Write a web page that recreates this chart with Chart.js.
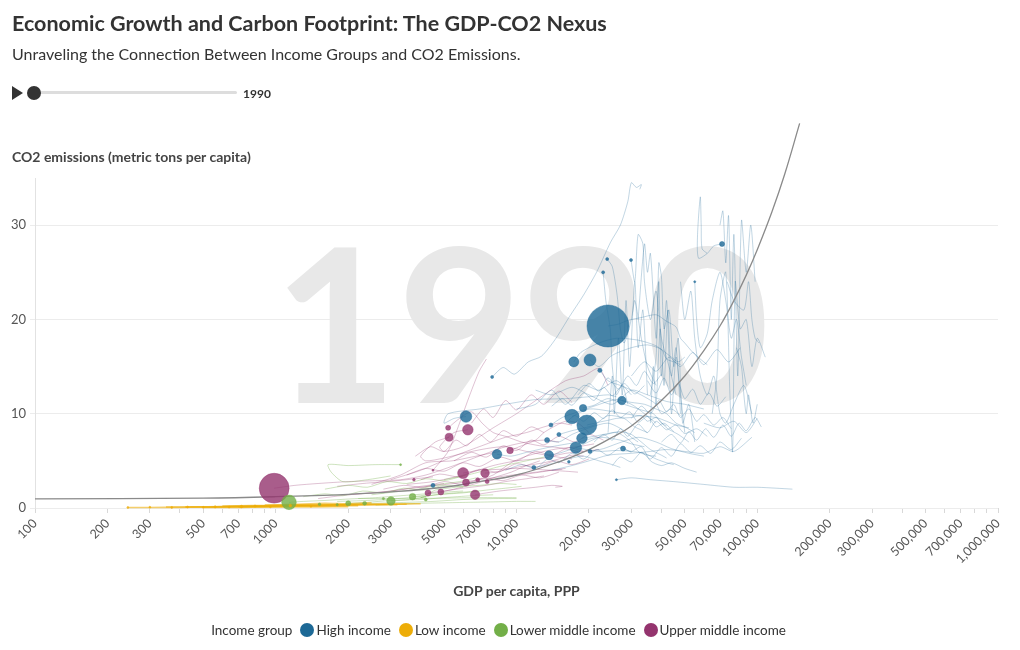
<!DOCTYPE html>
<html>
<head>
<meta charset="utf-8">
<script src="https://cdn.jsdelivr.net/npm/chart.js@4.4.0/dist/chart.umd.min.js"></script>
<style>
  body { margin: 0; width: 1020px; height: 650px; position: relative; background: #fff; font-family: Lato, "Open Sans", sans-serif; color: #333; overflow: hidden; }
  #c { position: absolute; left: 0; top: 0; }
  .abs { position: absolute; white-space: nowrap; }
  #title { left: 12px; top: 10px; font-size: 21.5px; font-weight: 700; color: #333; }
  #subtitle { left: 12px; top: 44px; font-size: 16px; color: #333; }
  #play { left: 12px; top: 86px; width: 0; height: 0; border-top: 7px solid transparent; border-bottom: 7px solid transparent; border-left: 11px solid #333; }
  #track { left: 34px; top: 91px; width: 203px; height: 3px; background: #ddd; border-radius: 2px; }
  #knob { left: 27px; top: 86px; width: 14px; height: 14px; border-radius: 50%; background: #333; }
  #year { left: 243px; top: 86px; font-size: 12px; font-weight: 700; color: #333; }
  #ytitle { left: 12px; top: 148px; font-size: 14px; font-weight: 700; color: #444; }
  #xtitle { left: 35px; width: 963px; top: 582px; text-align: center; font-size: 14px; font-weight: 700; color: #444; }
  #legend { left: 0; width: 1005px; top: 622px; display: flex; justify-content: center; align-items: center; font-size: 13.5px; color: #333; }
  #legend .lab { margin-right: 8px; }
  #legend .item { display: flex; align-items: center; margin-right: 8px; }
  #legend .dot { width: 14px; height: 14px; border-radius: 50%; margin-right: 2px; }
</style>
</head>
<body>
<canvas id="c" width="1020" height="650"></canvas>
<div id="title" class="abs">Economic Growth and Carbon Footprint: The GDP-CO2 Nexus</div>
<div id="subtitle" class="abs">Unraveling the Connection Between Income Groups and CO2 Emissions.</div>
<div id="play" class="abs"></div>
<div id="track" class="abs"></div>
<div id="knob" class="abs"></div>
<div id="year" class="abs">1990</div>
<div id="ytitle" class="abs">CO2 emissions (metric tons per capita)</div>
<div id="xtitle" class="abs">GDP per capita, PPP</div>
<div id="legend" class="abs"></div>
<script>
// groups and colours
const groups = ['High income', 'Low income', 'Lower middle income', 'Upper middle income'];
const groupColors = ['#1D6996', '#EDAD08', '#73AF48', '#94346E'];
const year = '1990';

// 1990 markers: GDP per capita (PPP), CO2 per capita (t), total CO2 (Mt, sets bubble size)
const highGdp   = [24000, 17300, 20200, 22200, 27400, 17000, 18900, 19600, 18700, 17650, 6170, 8300, 13650, 13400, 15000, 13900, 20200, 26000, 71400, 23800, 29900, 22900, 55000, 7920, 4500, 27700, 11800, 16500];
const highCo2   = [19.3, 15.5, 15.7, 14.6, 11.4, 9.7, 10.6, 8.8, 7.4, 6.4, 9.7, 5.7, 5.6, 7.2, 7.8, 8.8, 6.0, 3.0, 28.0, 26.4, 26.3, 25.0, 24.0, 13.9, 2.4, 6.3, 4.3, 4.9];
const highTotal = [4900, 280, 400, 50, 200, 575, 150, 1110, 310, 370, 370, 255, 225, 70, 45, 45, 45, 12, 70, 25, 25, 25, 12, 25, 45, 70, 45, 20];

const lowGdp   = [243, 300, 370, 430, 500, 560, 640, 720, 820, 950, 1150, 1400];
const lowCo2   = [0.05, 0.08, 0.06, 0.1, 0.07, 0.12, 0.1, 0.15, 0.2, 0.12, 0.25, 0.18];
const lowTotal = [8, 10, 8, 12, 10, 15, 12, 20, 15, 10, 18, 12];

const lmGdp   = [1135, 3010, 3700, 2000, 3300, 1520, 2340, 2800, 4200, 1800];
const lmCo2   = [0.6, 0.75, 1.2, 0.5, 4.6, 0.4, 0.5, 1.0, 0.9, 0.35];
const lmTotal = [590, 200, 120, 70, 10, 20, 40, 15, 25, 15];

const umGdp   = [985, 6280, 5250, 5200, 9400, 6000, 7400, 6170, 6730, 4290, 4850, 6900, 7550, 3750, 4500];
const umCo2   = [2.1, 8.3, 7.5, 8.5, 6.1, 3.7, 3.7, 2.7, 1.4, 1.6, 1.7, 3.0, 2.8, 3.0, 4.0];
const umTotal = [2475, 310, 180, 70, 120, 335, 205, 135, 245, 100, 100, 45, 45, 20, 12];

// trails of later years, [gdp, co2] pairs
const highTrails = [
  [[24000,19.3],[26500,19.5],[29000,19.9],[33000,20.2],[38000,20.5],[42000,19.8],[46000,19.2],[48000,18.0],[50000,17.5],[54000,16.5],[58000,15.8],[62000,15.2]],
  [[20200,15.7],[22000,15.0],[25000,16.2],[30000,17.0],[35000,17.3],[40000,16.8],[42000,15.8],[45000,15.5],[48000,15.2]],
  [[17300,15.5],[18500,16.5],[22000,17.5],[26000,18.0],[32000,17.8],[38000,17.2],[44000,16.0],[47000,15.5],[50000,16.0]],
  [[19600,8.8],[22000,9.1],[24000,9.3],[26000,9.5],[30000,9.6],[33000,9.8],[35000,9.2],[38000,9.6],[40000,9.0],[42000,8.7]],
  [[17000,9.7],[20000,10.5],[24000,10.3],[28000,10.0],[32000,9.8],[38000,9.6],[42000,9.2],[46000,8.8],[52000,8.5]],
  [[18700,7.4],[21000,7.6],[24000,7.9],[27000,8.1],[30000,7.8],[33000,7.0],[36000,6.2],[40000,5.6],[42000,5.3]],
  [[17650,6.4],[19500,6.2],[22000,6.0],[26000,6.1],[30000,6.0],[34000,5.8],[38000,5.2],[42000,4.8],[45000,4.6]],
  [[6170,9.7],[5500,9.5],[5000,9.0],[5200,10.0],[7000,10.5],[9000,11.0],[12000,11.5],[16000,11.6],[20000,11.8],[24000,12.0],[26000,11.8]],
  [[8300,5.7],[9500,5.5],[11000,5.9],[14000,6.5],[18000,7.0],[22000,7.5],[27000,7.2],[30000,6.8],[34000,6.5]],
  [[13650,5.6],[15000,5.8],[18000,6.5],[22000,7.5],[26000,8.0],[30000,7.0],[32000,6.0],[35000,5.6],[38000,5.5]],
  [[27400,11.4],[30000,11.2],[34000,11.0],[38000,10.5],[42000,10.0],[46000,9.0],[50000,8.6],[55000,8.0]],
  [[18900,10.6],[21000,10.9],[24000,11.6],[28000,11.0],[33000,10.4],[37000,10.0],[42000,8.5],[47000,7.8],[52000,7.0]],
  [[22200,14.6],[24000,13.5],[27000,13.0],[30000,12.5],[34000,11.8],[38000,11.0],[40000,10.0],[44000,10.5],[48000,9.8]],
  [[13400,7.2],[15000,7.0],[17000,7.8],[20000,8.5],[24000,9.0],[28000,8.2],[30000,7.5],[32000,7.0]],
  [[13900,8.8],[15500,9.6],[18000,10.2],[21000,10.8],[26000,11.5],[30000,11.0],[34000,10.0],[38000,9.0]],
  [[15000,7.8],[17000,8.2],[21000,8.8],[24000,9.8],[28000,9.5],[31000,8.6],[35000,8.0]],
  [[20200,6.0],[23000,6.3],[26000,6.8],[32000,7.5],[38000,7.0],[44000,6.3],[52000,5.8],[60000,5.5]],
  [[26000,3.0],[30000,3.2],[36000,3.0],[45000,2.8],[60000,2.5],[80000,2.2],[100000,2.2],[120000,2.1],[140000,2.0]],
  [[27700,6.3],[30000,6.0],[33000,6.5],[36000,5.0],[40000,4.5],[44000,4.8],[50000,4.2],[56000,3.8]],
  [[11800,4.3],[13000,4.5],[15000,4.9],[17000,5.3],[19000,5.5],[22000,5.0],[25000,4.6],[27000,4.3]],
  [[7920,13.9],[8800,14.9],[9800,14.2],[11200,15.5],[12700,16.1],[14500,17.9],[16600,20.3],[18900,22.5],[21500,25.0],[24600,28.2],[27000,30.0],[29000,32.5],[30000,34.5],[31500,34.0],[33000,34.3],[32500,33.8]],
  [[23800,26.4],[25000,25.6],[26200,22.5],[27000,19.0],[28000,17.5],[30000,20.0],[31000,22.0],[33000,18.0],[35000,15.0],[38000,13.0]],
  [[29900,26.3],[31000,24.0],[32000,29.0],[33500,28.0],[34000,24.0],[36000,20.0],[38000,23.0],[40000,18.0],[43000,15.0],[46000,12.0]],
  [[22900,25.0],[23500,22.0],[24500,19.0],[25000,15.0],[26000,12.0],[27500,13.0],[29000,11.0]],
  [[55000,24.0],[56000,20.0],[58000,17.0],[62000,18.5],[65000,22.0],[70000,25.0],[74000,22.0],[78000,18.0],[82000,20.0],[86000,16.0],[90000,13.0]],
  [[71400,28.0],[66000,27.8],[62000,27.0],[57000,26.5],[56500,29.0],[58000,33.0],[58500,30.0],[59000,27.5],[62000,27.0]],
  [[70000,30.0],[72000,31.5],[74000,26.0],[76000,31.0],[78000,20.0],[80000,29.0],[83000,14.0],[86000,30.5],[90000,25.0],[94000,30.0],[98000,24.0]],
  [[65000,10.0],[68000,14.0],[70000,22.0],[74000,25.0],[77000,12.0],[79000,6.0],[81000,24.0],[85000,19.0],[90000,20.0],[95000,15.0],[100000,18.0],[108000,16.0]],
  [[48000,24.0],[50000,20.0],[53000,23.0],[55000,18.0],[58000,14.0],[62000,12.0],[66000,14.0],[70000,10.0],[74000,9.0],[80000,11.0],[88000,13.0],[95000,10.0]],
  [[32000,20.0],[34000,28.0],[35000,25.0],[36000,27.0],[38000,18.0],[39000,24.0],[40000,14.0],[42000,22.0],[44000,10.0],[46000,16.0],[48000,12.0],[50000,8.0]],
  [[36000,12.0],[38000,16.0],[39000,26.0],[40000,24.5],[41000,19.0],[43000,21.0],[45000,15.0],[47000,18.0],[49000,9.0],[52000,11.0],[55000,7.0]],
  [[75000,24.0],[80000,22.0],[88000,21.0],[92000,24.0],[95000,20.0],[98000,18.0],[102000,17.5]],
  [[82000,17.0],[86000,15.0],[88000,12.0],[90000,10.0],[92000,12.0],[96000,9.0],[100000,11.0]],
  [[60000,9.0],[70000,8.5],[80000,9.2],[90000,8.0],[100000,9.5]],
  [[12000,12.5],[14000,12.0],[17000,12.8],[20000,12.0],[25000,11.0],[30000,12.5],[35000,12.0],[42000,11.3],[50000,11.0],[60000,10.5]],
  [[10000,10.5],[12000,11.0],[14000,12.5],[16000,11.0],[19000,13.0],[22000,12.5],[26000,13.5],[30000,12.0]],
  [[14000,4.0],[17000,4.5],[20000,5.0],[24000,5.6],[30000,5.8],[36000,6.0],[42000,6.2],[50000,6.0],[60000,5.8],[70000,6.5],[80000,6.0],[95000,7.5]],
  [[16000,9.0],[17500,9.8],[19000,9.2],[21000,10.1],[23000,9.5],[25000,10.4],[27000,9.6],[29500,10.2],[32000,9.1],[35000,9.7],[38000,8.6],[41000,9.0],[45000,8.1]],
  [[21000,7.0],[23000,7.8],[25000,7.2],[27000,8.4],[29000,7.6],[32000,8.9],[35000,8.0],[38000,9.2],[42000,8.3],[46000,8.8],[50000,7.9],[56000,8.4],[62000,7.6]],
  [[25000,4.5],[27000,5.4],[30000,4.9],[33000,5.9],[36000,5.2],[40000,6.4],[44000,5.5],[48000,6.8],[53000,5.9],[58000,6.6],[64000,5.8],[70000,7.0],[78000,6.2],[86000,7.4]],
  [[30000,9.5],[33000,10.8],[36000,10.0],[39000,11.4],[42000,10.2],[45000,11.0],[48000,9.6],[52000,10.5],[56000,9.2],[60000,9.9],[66000,8.8],[72000,9.6],[78000,8.4]],
  [[35000,13.5],[38000,12.2],[41000,13.8],[44000,12.0],[47000,13.2],[50000,11.6],[54000,12.6],[58000,11.0],[63000,12.2],[68000,10.8],[74000,11.8]],
  [[40000,7.0],[44000,7.8],[48000,6.9],[52000,8.1],[56000,7.2],[61000,8.4],[66000,7.5],[72000,8.8],[78000,7.6],[84000,9.0],[90000,8.2],[98000,9.6],[104000,8.6]],
  [[18000,12.0],[20000,13.2],[22000,12.4],[24000,13.8],[26500,12.6],[29000,14.0],[31500,13.0],[34000,14.5],[37000,13.2],[40000,14.2]],
  [[9000,4.0],[10500,4.6],[12000,4.2],[13500,5.2],[15000,4.8],[17000,5.8],[19000,5.2],[21500,6.2],[24000,5.6],[27000,6.4],[30000,5.9]],
  [[14000,10.8],[15500,11.6],[17000,10.9],[19000,12.2],[21000,11.4],[23000,12.8],[25000,11.9],[28000,13.2],[31000,12.1],[34000,13.0]],
  [[24000,8.0],[25000,14.0],[25500,10.0],[26500,18.0],[27500,12.0],[28500,22.0],[29500,15.0],[31000,24.0],[32000,17.0],[33500,21.0],[35000,12.0]],
  [[36000,9.0],[37000,15.0],[38000,11.0],[39500,19.0],[41000,13.0],[42500,21.0],[44000,14.0],[46000,17.0],[48000,10.0]],
  [[30000,14.0],[34000,15.5],[38000,14.5],[43000,16.0],[48000,15.0],[54000,16.5],[60000,15.2],[68000,16.8],[76000,15.5],[85000,17.0]]
];
const lowTrails = [
  [[243,0.05],[300,0.06],[400,0.07],[500,0.08],[600,0.1],[700,0.12],[900,0.15],[1100,0.18],[1400,0.2],[1800,0.22],[2200,0.25]],
  [[350,0.1],[450,0.12],[600,0.15],[800,0.2],[1000,0.25],[1300,0.3],[1700,0.32],[2200,0.35],[2800,0.38],[3500,0.4]],
  [[600,0.2],[800,0.25],[1000,0.28],[1300,0.3],[1700,0.35],[2300,0.4],[3000,0.42],[4000,0.45]],
  [[500,0.05],[700,0.07],[900,0.09],[1200,0.1],[1500,0.12],[2000,0.15]],
  [[900,0.3],[1200,0.4],[1600,0.5],[2000,0.45],[2500,0.55]],
  [[420,0.1],[560,0.14],[720,0.18],[950,0.22],[1250,0.26],[1600,0.3],[2000,0.34]],
  [[700,0.12],[950,0.18],[1300,0.24],[1800,0.3],[2400,0.32],[3200,0.36]]
];
const lmTrails = [
  [[1135,0.6],[1300,0.7],[1600,0.8],[2000,0.95],[2600,1.1],[3300,1.3],[4200,1.5],[5200,1.7],[6000,1.8]],
  [[3010,0.75],[3600,0.9],[4200,1.2],[4000,1.1],[4600,1.4],[6000,1.6],[7500,1.9],[9000,2.1],[10500,2.3]],
  [[3700,1.2],[4200,1.4],[4600,1.9],[5200,2.1],[6000,2.3],[7000,2.4],[8500,2.6],[10000,2.5]],
  [[2000,0.5],[2400,0.6],[3000,0.8],[4000,0.9],[5000,1.1],[6500,1.3],[8000,1.4]],
  [[3300,4.6],[2600,4.6],[2000,4.5],[1650,4.6],[1700,3.8],[1900,2.8],[2400,3.0],[3000,3.4]],
  [[1500,0.3],[2000,0.4],[2600,0.5],[3500,0.6],[4500,0.7],[6000,0.9],[8000,1.0],[10000,1.0]],
  [[1800,0.7],[2400,0.8],[3200,1.0],[4300,1.3],[5500,1.6],[7000,1.8]],
  [[2500,1.4],[3100,1.7],[3900,2.0],[4800,2.5],[5800,2.8],[6800,3.2]],
  [[5000,3.0],[6500,3.6],[8500,4.4],[11000,5.0],[13000,5.4]],
  [[2200,1.0],[3500,1.0],[5000,1.05],[7000,1.1],[10000,1.1]],
  [[1300,1.2],[1600,1.5],[1900,1.3],[2300,1.8],[2800,1.6],[3400,2.1],[4100,1.9],[5000,2.4],[6000,2.2]],
  [[1600,2.0],[2000,2.4],[2400,2.2],[2900,2.8],[3500,2.6],[4200,3.1],[5000,2.9],[6000,3.4]],
  [[2600,0.3],[3200,0.4],[4000,0.5],[5000,0.55],[6300,0.6],[8000,0.65],[10000,0.7],[12000,0.7]]
];
const umTrails = [
  [[985,2.1],[1200,2.4],[1500,2.6],[2000,2.8],[2600,2.9],[3300,3.0],[4200,3.5],[5500,4.5],[7000,5.5],[9000,6.5],[11000,7.0],[13000,7.2],[15000,7.0]],
  [[6280,8.3],[5500,8.0],[4800,6.5],[5000,6.0],[6000,6.5],[8000,8.5],[10000,10.0],[13000,12.0],[16000,13.5],[19000,14.0],[22000,14.8],[24000,13.0]],
  [[5250,7.5],[4600,7.0],[4000,5.5],[4200,5.0],[5000,5.3],[6000,5.8],[7500,6.3],[9000,6.5],[11000,6.0],[14000,5.5],[17000,5.2]],
  [[5200,8.5],[5800,9.5],[6500,10.2],[7200,9.0],[8000,8.0],[9000,7.6],[10500,7.0],[12500,6.6],[15000,6.4],[18000,6.0]],
  [[9400,6.1],[10500,6.6],[12000,7.2],[13000,8.0],[14000,8.5],[16000,9.2],[18000,9.0],[20000,8.0]],
  [[6000,3.7],[7000,4.0],[8500,4.1],[10000,4.2],[12000,4.1],[14000,4.0],[16000,3.9],[18000,3.8]],
  [[7400,3.7],[8200,3.8],[9500,4.2],[11000,4.5],[13000,4.8],[15000,5.2],[17000,5.6],[19000,5.5]],
  [[6170,2.7],[7000,2.8],[8200,3.0],[9600,3.4],[11000,3.6],[12500,3.8],[14000,4.0],[15500,4.1]],
  [[6730,1.4],[7500,1.6],[8500,1.8],[10000,2.0],[12000,2.2],[14000,2.4],[15500,2.3],[14500,2.2]],
  [[4290,1.6],[5000,1.8],[6000,2.1],[7500,2.4],[9000,2.8],[11000,3.1],[13000,3.4]],
  [[4850,1.7],[5500,2.0],[6800,2.6],[8000,3.2],[9500,3.8],[11000,4.5],[12500,5.0]],
  [[6900,3.0],[8000,3.5],[9500,4.8],[11000,5.5],[13000,6.0],[15000,6.3],[18000,6.5],[21000,6.8]],
  [[4500,4.0],[5200,6.0],[5800,9.0],[6400,12.0],[7000,14.5],[7500,15.8]],
  [[3000,3.0],[4000,4.0],[5500,5.5],[7000,6.5],[9000,7.5],[11000,8.0],[13000,8.6],[15000,9.0],[17000,8.8]],
  [[3500,2.5],[4500,2.8],[6000,3.5],[8000,4.5],[10000,5.0],[13000,5.3],[16000,5.8],[19000,6.0],[22000,6.2]],
  [[2500,2.5],[3300,3.5],[4200,4.8],[5400,5.0],[6500,5.4],[8500,6.0]],
  [[2000,1.4],[2800,1.7],[4000,2.2],[5500,2.6],[7000,3.0],[9000,3.4],[12000,3.8],[16000,4.2]],
  [[1500,1.0],[2000,1.4],[3000,1.8],[4000,2.3],[5000,2.6]],
  [[1800,2.3],[2300,2.6],[3200,2.9],[4500,3.3]],
  [[3500,3.5],[4200,4.2],[5000,3.9],[6000,4.8],[7000,4.4],[8500,5.4],[10000,5.0],[12000,6.0],[14000,5.6],[16500,6.4],[19000,6.0]],
  [[4000,3.0],[4800,3.6],[5800,3.3],[7000,4.1],[8400,3.8],[10000,4.7],[12000,4.3],[14500,5.0],[17000,4.6],[20000,5.2]],
  [[5500,5.0],[6500,5.9],[7500,5.4],[8800,6.6],[10000,6.1],[11500,7.2],[13000,6.7],[15000,7.6],[17500,7.0],[20000,7.8],[23000,7.2]],
  [[2800,2.0],[3400,2.4],[4100,2.2],[5000,2.8],[6000,2.5],[7300,3.2],[8800,2.9],[10500,3.5],[12500,3.2],[15000,3.8]],
  [[6500,9.0],[7300,10.5],[8000,9.6],[9000,11.4],[10000,10.4],[11500,12.0],[13000,11.0],[15000,12.4],[17000,11.2]],
  [[3800,5.5],[4400,6.5],[5000,6.0],[5600,7.2],[6200,6.6],[7000,7.8],[7800,7.0],[8800,8.2],[10000,7.6],[11500,8.6],[13000,8.0]]
];

// overall trend line
const trendGdp = [100, 500, 1000, 2000, 3000, 5000, 7000, 10000, 15000, 20000, 25000, 30000, 40000, 50000, 60000, 70000, 80000, 90000, 100000, 115000, 130000, 150000];
const trendCo2 = [0.96, 1.05, 1.2, 1.45, 1.7, 2.2, 2.8, 3.5, 4.9, 6.2, 7.5, 8.7, 11.4, 14.0, 16.7, 19.3, 22.0, 24.7, 27.4, 31.4, 35.4, 40.8];

// axis ticks
const xLabelled = [100, 200, 300, 500, 700, 1000, 2000, 3000, 5000, 7000, 10000, 20000, 30000, 50000, 70000, 100000, 200000, 300000, 500000, 700000, 1000000];
const yTicks = [0, 10, 20, 30];

function rgba(hex, a) {
  const n = parseInt(hex.slice(1), 16);
  return `rgba(${n >> 16},${(n >> 8) & 255},${n & 255},${a})`;
}
function bubbles(gdp, co2, total) {
  return gdp.map((g, i) => ({ x: g, y: co2[i], r: Math.max(1, 0.3 * Math.sqrt(total[i])) }));
}

const datasets = [];
const trailSets = [highTrails, lowTrails, lmTrails, umTrails];
const trailAlpha = [0.27, 0.6, 0.35, 0.3];
const trailWidth = [1, 1.6, 1, 1];
trailSets.forEach((set, gi) => {
  set.forEach(t => datasets.push({
    type: 'line', data: t.map(p => ({ x: p[0], y: p[1] })),
    borderColor: rgba(groupColors[gi], trailAlpha[gi]), borderWidth: trailWidth[gi],
    pointRadius: 0, tension: 0.25, fill: false, order: 3, clip: 4
  }));
});
datasets.push({
  type: 'line', data: trendGdp.map((g, i) => ({ x: g, y: trendCo2[i] })),
  borderColor: '#8a8a8a', borderWidth: 1.3, pointRadius: 0, tension: 0.4,
  fill: false, order: 2, clip: false
});
const bubbleSets = [[lowGdp, lowCo2, lowTotal], [lmGdp, lmCo2, lmTotal], [umGdp, umCo2, umTotal], [highGdp, highCo2, highTotal]];
const bubbleGroup = [1, 2, 3, 0];
bubbleSets.forEach((b, k) => {
  const c = groupColors[bubbleGroup[k]];
  datasets.push({
    type: 'bubble', label: groups[bubbleGroup[k]], data: bubbles(b[0], b[1], b[2]),
    backgroundColor: rgba(c, 0.8), borderColor: rgba(c, 0.9), borderWidth: 0.5,
    order: 1, clip: 20
  });
});

// big year watermark behind the data
const watermark = {
  id: 'watermark',
  beforeDatasetsDraw(chart) {
    const a = chart.chartArea, ctx = chart.ctx;
    ctx.save();
    ctx.font = 'bold 214px Lato, sans-serif';
    ctx.fillStyle = '#e8e8e8';
    ctx.textAlign = 'center';
    ctx.textBaseline = 'alphabetic';
    ctx.fillText(year, (a.left + a.right) / 2 + 5, a.bottom - 105);
    ctx.restore();
  }
};

const fmt = v => v < 10000 ? String(v) : v.toLocaleString('en-US');

new Chart(document.getElementById('c'), {
  type: 'bubble',
  data: { datasets },
  plugins: [watermark],
  options: {
    responsive: false, animation: false, events: [],
    layout: { padding: { top: 178, right: 22, bottom: 82, left: 0 } },
    plugins: { legend: { display: false }, tooltip: { enabled: false } },
    scales: {
      x: {
        type: 'logarithmic', min: 100, max: 1000000,
        afterFit: s => { s.height = 60; },
        afterBuildTicks: s => {
          const t = [];
          for (let d = 100; d < 1000000; d *= 10) for (let m = 1; m < 10; m++) t.push({ value: d * m });
          t.push({ value: 1000000 });
          s.ticks = t;
        },
        grid: { drawOnChartArea: false, drawTicks: true, tickLength: 5, color: '#d8d8d8' },
        border: { display: false },
        ticks: {
          autoSkip: false, minRotation: 45, maxRotation: 45, padding: 3,
          color: '#555', font: { family: 'Lato', size: 12.5 },
          callback: v => xLabelled.includes(v) ? fmt(v) : ''
        }
      },
      y: {
        min: 0, max: 35,
        afterFit: s => { s.width = 35; },
        afterBuildTicks: s => { s.ticks = yTicks.map(v => ({ value: v })); },
        grid: { color: '#ececec', tickLength: 5 },
        border: { color: '#e2e2e2' },
        ticks: { padding: 4, color: '#555', font: { family: 'Lato', size: 13 } }
      }
    }
  }
});

// legend
const lg = document.getElementById('legend');
lg.innerHTML = '<span class="lab">Income group</span>' + groups.map((g, i) =>
  `<span class="item"><span class="dot" style="background:${groupColors[i]}"></span>${g}</span>`).join('');
</script>
</body>
</html>
